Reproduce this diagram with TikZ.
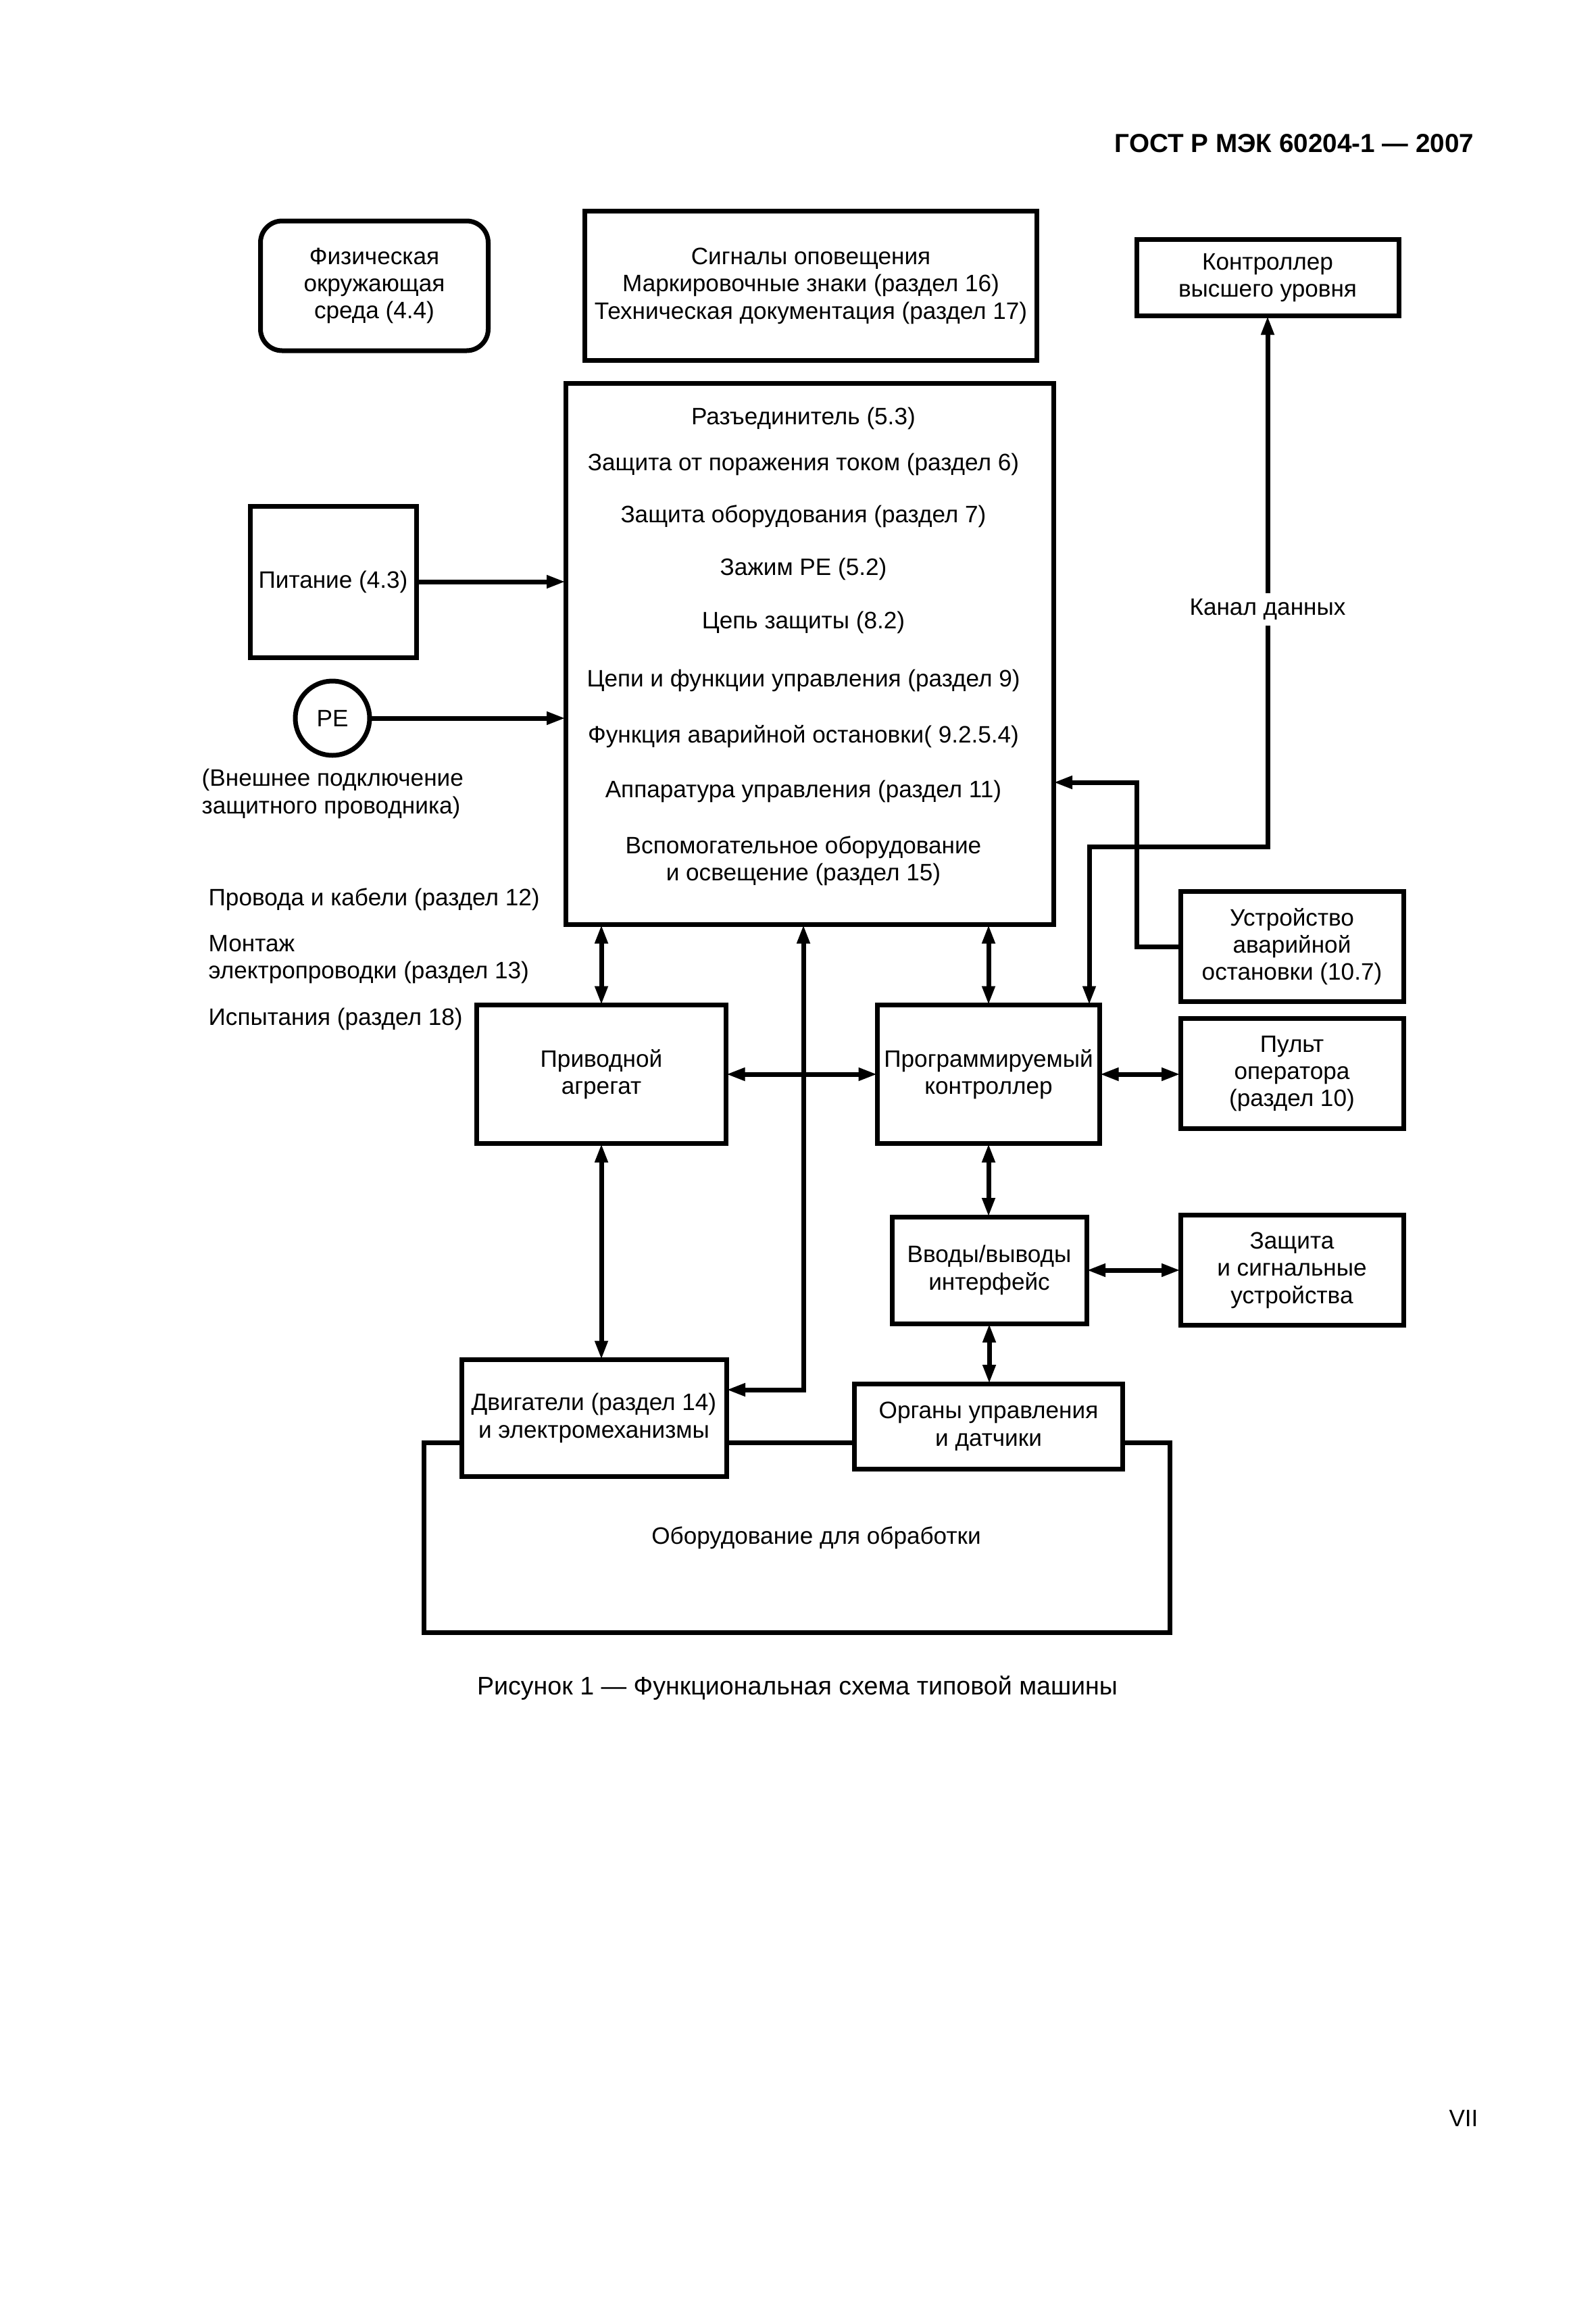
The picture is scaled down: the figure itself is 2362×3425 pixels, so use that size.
\documentclass[tikz,border=0pt]{standalone}
\usepackage{fontspec}
\setmainfont{Liberation Sans}
\usetikzlibrary{arrows.meta}

\tikzset{
  blk/.style={draw, line width=0.7mm, fill=white, align=center, inner sep=0pt, outer sep=0pt},
  lbl/.style={inner sep=0pt, align=left, anchor=west},
  link/.style={line width=0.7mm, -{Triangle[length=2.8mm,width=1.8mm]}},
  bilink/.style={line width=0.7mm, {Triangle[length=2.8mm,width=1.8mm]}-{Triangle[length=2.8mm,width=1.8mm]}},
}

\begin{document}
\begin{tikzpicture}[x=0.1mm, y=-0.1mm, font=\fontsize{10pt}{11.5pt}\selectfont]
    \useasboundingbox (0,0) rectangle (2362,3425);
    \node[font=\bfseries\fontsize{11pt}{13pt}\selectfont, anchor=east, inner sep=0pt] (hdr) at (2182,212) {ГОСТ Р МЭК 60204-1 — 2007};

    % top row
    \node[blk, rounded corners=3.2mm, minimum width=33.7mm, minimum height=19.2mm] (env) at (554,423) {Физическая\\окружающая\\среда (4.4)};
    \node[blk, minimum width=66.9mm, minimum height=22.1mm] (sig) at (1200,423) {Сигналы оповещения\\Маркировочные знаки (раздел 16)\\Техническая документация (раздел 17)};
    \node[blk, minimum width=38.8mm, minimum height=11.3mm] (hlc) at (1876,411) {Контроллер\\высшего уровня};

    % main block
    \node[blk, minimum width=72.2mm, minimum height=80.1mm] (main) at (1198,968) {};
    \path
    (1189,619)node (m1){Разъединитель (5.3)}
    (1189,687)node (m2){Защита от поражения током (раздел 6)}
    (1189,764)node (m3){Защита оборудования (раздел 7)}
    (1189,842)node (m4){Зажим PE (5.2)}
    (1189,921)node (m5){Цепь защиты (8.2)}
    (1189,1007)node (m6){Цепи и функции управления (раздел 9)}
    (1189,1090)node (m7){Функция аварийной остановки( 9.2.5.4)}
    (1189,1171)node (m8){Аппаратура управления (раздел 11)}
    (1189,1274)node[align=center] (m9){Вспомогательное оборудование\\и освещение (раздел 15)};

    \node[blk, minimum width=24.6mm, minimum height=22.4mm] (power) at (493,861) {Питание (4.3)};
    \node[blk, circle, minimum size=11mm] (pe) at (492,1063) {PE};
    \node[lbl] (peNote) at (298,1175) {(Внешнее подключение\\защитного проводника)};
    \node[lbl] (wires) at (308,1331) {Провода и кабели (раздел 12)};
    \node[lbl] (mount) at (308,1420) {Монтаж\\электропроводки (раздел 13)};
    \node[lbl] (tests) at (308,1508) {Испытания (раздел 18)};

    % right column
    \node[blk, minimum width=33mm, minimum height=16.3mm] (estop) at (1912,1401) {Устройство\\аварийной\\остановки (10.7)};
    \node[blk, minimum width=33mm, minimum height=16.3mm] (pult) at (1912,1589) {Пульт\\оператора\\(раздел 10)};
    \node[blk, minimum width=33mm, minimum height=16.3mm] (prot) at (1912,1880) {Защита\\и сигнальные\\устройства};

    % lower part
    \node[blk, minimum width=110.4mm, minimum height=28.1mm] (equip) at (1179,2276) {};
    \node[inner sep=0pt] (equipTxt) at (1208,2276) {Оборудование для обработки};
    \node[blk, minimum width=36.9mm, minimum height=20.5mm] (drive) at (890,1590) {Приводной\\агрегат};
    \node[blk, minimum width=32.9mm, minimum height=20.5mm] (plc) at (1463,1590) {Программируемый\\контроллер};
    \node[blk, minimum width=28.8mm, minimum height=15.8mm] (io) at (1464,1880) {Вводы/выводы\\интерфейс};
    \node[blk, minimum width=39.2mm, minimum height=17.3mm] (motors) at (879,2099) {Двигатели (раздел 14)\\и электромеханизмы};
    \node[blk, minimum width=39.7mm, minimum height=12.6mm] (sens) at (1463,2111) {Органы управления\\и датчики};

    % connections
    \coordinate (drop) at (1189,2057);
    \coordinate (chDown) at (1612,1253);
    \coordinate (esBend) at (1682,1158);
    \draw[link] (power.east) -- (power.east -| main.west);
    \draw[link] (pe.east) -- (pe.east -| main.west);
    \draw[link] (estop.west) -| (esBend) -- (main.east |- esBend);
    \draw[bilink] (hlc.south) |- (chDown) -- (chDown |- plc.north);
    \node[fill=white, inner sep=0.8mm] (chan) at (1876,902) {Канал данных};
    \draw[bilink] (main.south -| drive.north) -- (drive.north);
    \draw[bilink] (main.south -| plc.north) -- (plc.north);
    \draw[bilink] (main.south -| drop) -- (drop) -- (motors.east |- drop);
    \draw[bilink] (drive.east) -- (plc.west);
    \draw[bilink] (plc.east) -- (plc.east -| pult.west);
    \draw[bilink] (drive.south) -- (drive.south |- motors.north);
    \draw[bilink] (plc.south) -- (plc.south |- io.north);
    \draw[bilink] (io.east) -- (io.east -| prot.west);
    \draw[bilink] (io.south) -- (io.south |- sens.north);

    \node[font=\fontsize{10.7pt}{13pt}\selectfont] (caption) at (1180,2498) {Рисунок 1 — Функциональная схема типовой машины};
    \node (pageNo) at (2166,3135) {VII};
  \end{tikzpicture}
\end{document}
